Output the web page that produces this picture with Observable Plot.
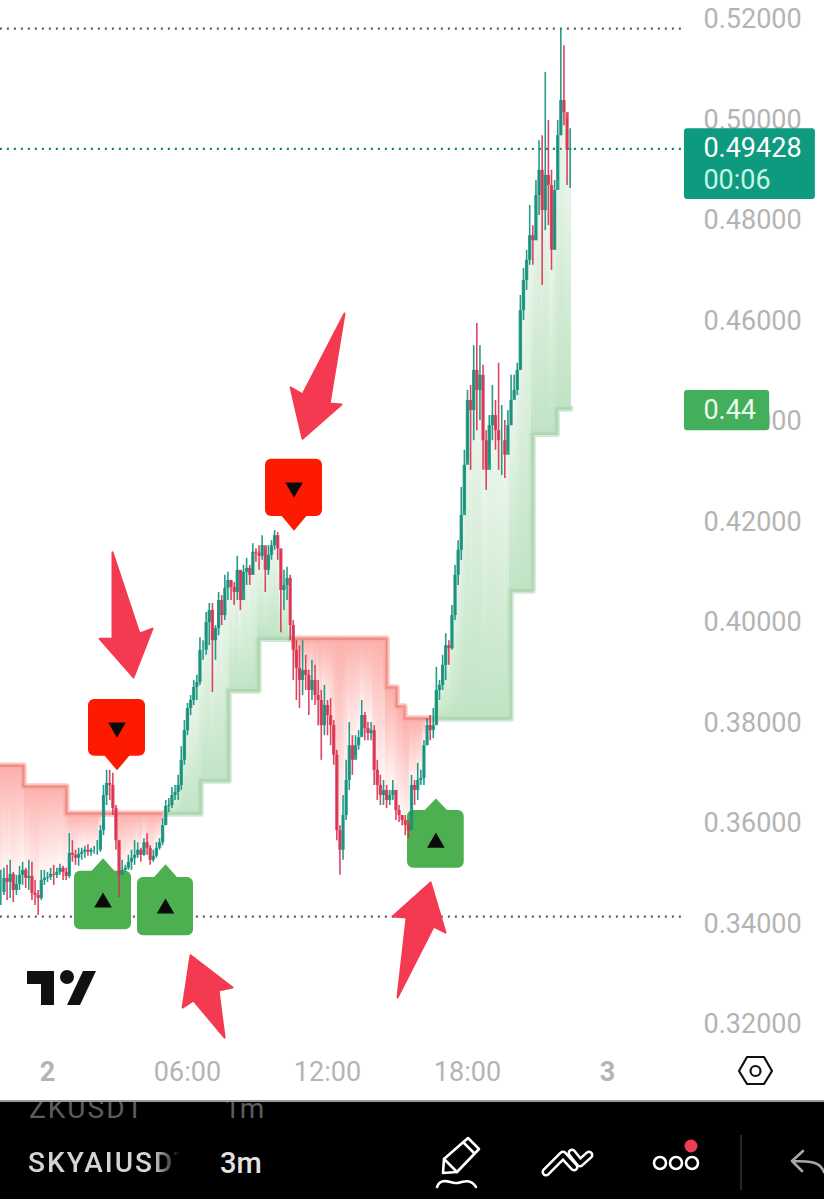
<!DOCTYPE html>
<html>
<head>
<meta charset="utf-8">
<script src="https://cdn.jsdelivr.net/npm/d3@7"></script>
<script src="https://cdn.jsdelivr.net/npm/@observablehq/plot@0.6"></script>
<style>
html,body{margin:0;padding:0;background:#fff;}
#page{position:relative;width:824px;height:1199px;overflow:hidden;font-family:Roboto,sans-serif;}
#chart svg{display:block;}
.over{position:absolute;left:0;top:0;pointer-events:none;}
#strip{position:absolute;left:0;top:1100px;width:824px;height:99px;background:#000;border-top:2px solid #9a9a9a;box-sizing:border-box;overflow:hidden;}
#strip div{position:absolute;white-space:nowrap;}
</style>
</head>
<body>
<div id="page">
  <div id="chart"></div>
  <svg class="over" width="824" height="1199" viewBox="0 0 824 1199">
    <g fill="#111"><path d="M27 971H54V1005H41V984H27Z"/><circle cx="67" cy="977" r="7"/><path d="M83 971H96L80 1005H67Z"/></g>
    <g fill="none" stroke="#111" stroke-width="2.2"><path d="M739 1071L747 1057H764L772 1071L764 1084H747Z" stroke-linejoin="round"/><circle cx="755.5" cy="1071" r="5"/></g>
  </svg>
  <div id="strip">
    <div style="left:29px;top:-10px;font-size:28px;letter-spacing:2px;color:#5c5c5c;">ZKUSDT</div>
    <div style="left:224px;top:-10px;font-size:28px;color:#5c5c5c;">1m</div>
    <div style="left:28px;top:44px;width:152px;overflow:hidden;font-size:28px;letter-spacing:2px;font-weight:500;color:#d4d4d4;-webkit-mask-image:linear-gradient(90deg,#000 82%,transparent);">SKYAIUSDT</div>
    <div style="left:220px;top:44px;font-size:29px;font-weight:500;color:#e2e2e2;">3m</div>
  </div>
  <svg class="over" width="824" height="1199" viewBox="0 0 824 1199">
    <g fill="none" stroke="#fff" stroke-width="2.6" stroke-linejoin="round" stroke-linecap="round">
      <path d="M443 1173L444 1159L468 1138L479 1149L457 1172Z"/><path d="M444 1159L457 1172"/><path d="M464 1143L474 1153"/><path d="M437 1187C441 1176 452 1184 458 1183C464 1181 471 1179 476 1187"/>
      <circle cx="660" cy="1163" r="6"/><circle cx="676" cy="1163" r="6"/><circle cx="692" cy="1163" r="6"/>
      <path d="M824 1172C820 1162 812 1161 792 1161M792 1161L803 1151M792 1161L802 1171" stroke="#a8a8a8"/>
    </g>
    <g fill="none" stroke-linejoin="round" stroke-linecap="round">
      <g stroke="#fff" stroke-width="9"><path d="M546 1172L563 1155L574 1167"/><path d="M572 1153L580 1163L589 1155"/></g>
      <g stroke="#000" stroke-width="4"><path d="M546 1172L563 1155L574 1167"/><path d="M572 1153L580 1163L589 1155"/></g>
    </g>
    <circle cx="691" cy="1146" r="6.5" fill="#ef3b54"/>
    <path d="M741 1135V1190" stroke="#333" stroke-width="1.5"/>
  </svg>
</div>
<script>
// --- axes ---
const priceTicks = [0.32,0.34,0.36,0.38,0.40,0.42,0.44,0.46,0.48,0.50,0.52];
const hourTicks = [6,12,18];
const hourLabels = ["06:00","12:00","18:00"];
const dayTicks = [0,24];
const dayLabels = ["2","3"];
const lastPrice = 0.49428;
const dayHigh = 0.5182;
const dayLow = 0.3415;
const stopLabelPrice = 0.4422;

// --- candles: 8-minute sampling from hour -2 of day 2; prices ---
const highs = [.3507,.3511,.3517,.3527,.3503,.3497,.3515,.3523,.3511,.3527,.3523,.3487,.3467,.3507,.3507,.3503,.3511,.3517,.3511,.3519,.3515,.3511,.3580,.3566,.3547,.3551,.3551,.3555,.3558,.3551,.3555,.3566,.3596,.3676,.3706,.3706,.3700,.3636,.3566,.3527,.3517,.3537,.3547,.3566,.3562,.3551,.3570,.3580,.3556,.3547,.3562,.3570,.3610,.3646,.3650,.3672,.3676,.3696,.3753,.3805,.3839,.3855,.3885,.3895,.3970,.3964,.4020,.4038,.4038,.3994,.4060,.4054,.4094,.4100,.4084,.4080,.4132,.4104,.4114,.4128,.4114,.4157,.4147,.4153,.4173,.4144,.4153,.4163,.4183,.4179,.4144,.4104,.4110,.4094,.4004,.3964,.3954,.3964,.3935,.3905,.3925,.3915,.3885,.3865,.3875,.3845,.3849,.3805,.3746,.3596,.3656,.3726,.3801,.3775,.3775,.3785,.3845,.3821,.3801,.3801,.3795,.3726,.3696,.3686,.3676,.3666,.3686,.3666,.3636,.3616,.3616,.3606,.3696,.3686,.3720,.3706,.3765,.3809,.3815,.3829,.3911,.3885,.3935,.3978,.3964,.4034,.4114,.4163,.4269,.4343,.4462,.4472,.4551,.4595,.4551,.4512,.4382,.4412,.4472,.4442,.4516,.4432,.4402,.4422,.4492,.4492,.4516,.4651,.4705,.4741,.4830,.4790,.4880,.4959,.4969,.5095,.4999,.4900,.4880,.4999,.5182,.5148,.5003,.4983];
const lows = [.3437,.3457,.3447,.3451,.3443,.3457,.3467,.3477,.3471,.3467,.3447,.3437,.3417,.3447,.3477,.3483,.3487,.3477,.3491,.3497,.3487,.3487,.3491,.3523,.3517,.3515,.3527,.3531,.3535,.3535,.3539,.3537,.3543,.3576,.3636,.3646,.3616,.3547,.3453,.3503,.3503,.3507,.3507,.3517,.3531,.3523,.3535,.3537,.3517,.3523,.3531,.3547,.3556,.3596,.3622,.3630,.3646,.3646,.3666,.3716,.3775,.3815,.3835,.3845,.3875,.3925,.3935,.3954,.3861,.3925,.3974,.3994,.4004,.4044,.4044,.4034,.4044,.4024,.4064,.4074,.4074,.4094,.4120,.4104,.4124,.4060,.4094,.4124,.4144,.4124,.3980,.4024,.4044,.3964,.3885,.3845,.3829,.3855,.3865,.3815,.3845,.3835,.3795,.3726,.3775,.3775,.3755,.3716,.3566,.3497,.3527,.3606,.3666,.3696,.3736,.3746,.3775,.3765,.3765,.3765,.3676,.3646,.3636,.3636,.3630,.3636,.3646,.3606,.3602,.3596,.3576,.3570,.3630,.3636,.3646,.3676,.3676,.3755,.3765,.3769,.3795,.3845,.3865,.3885,.3915,.3945,.4004,.4074,.4124,.4223,.4323,.4303,.4362,.4382,.4402,.4303,.4263,.4313,.4362,.4343,.4303,.4293,.4287,.4343,.4392,.4446,.4452,.4502,.4601,.4661,.4711,.4711,.4760,.4810,.4671,.4780,.4790,.4701,.4741,.4880,.4969,.4989,.4870,.4864];
const closes = [.3463,.3491,.3483,.3499,.3467,.3479,.3497,.3507,.3491,.3495,.3461,.3457,.3451,.3487,.3491,.3493,.3499,.3497,.3503,.3511,.3503,.3495,.3541,.3537,.3531,.3539,.3543,.3547,.3543,.3547,.3547,.3547,.3586,.3656,.3680,.3676,.3630,.3566,.3497,.3507,.3511,.3523,.3531,.3537,.3547,.3537,.3562,.3551,.3527,.3535,.3551,.3562,.3596,.3634,.3636,.3656,.3662,.3676,.3726,.3785,.3829,.3845,.3871,.3881,.3945,.3945,.4000,.4024,.3964,.3988,.4044,.4014,.4068,.4084,.4070,.4060,.4104,.4044,.4100,.4108,.4094,.4140,.4138,.4132,.4153,.4104,.4134,.4153,.4173,.4147,.4064,.4074,.4088,.3994,.3945,.3909,.3885,.3905,.3895,.3865,.3885,.3855,.3845,.3795,.3835,.3815,.3795,.3736,.3586,.3547,.3616,.3686,.3755,.3726,.3755,.3771,.3815,.3789,.3779,.3785,.3706,.3676,.3656,.3666,.3646,.3656,.3666,.3626,.3616,.3606,.3596,.3586,.3676,.3666,.3686,.3690,.3755,.3795,.3785,.3795,.3865,.3875,.3915,.3954,.3948,.4014,.4094,.4144,.4213,.4313,.4442,.4422,.4502,.4462,.4492,.4362,.4303,.4392,.4412,.4382,.4362,.4362,.4333,.4392,.4442,.4462,.4502,.4621,.4681,.4721,.4770,.4760,.4850,.4900,.4820,.4890,.4870,.4741,.4860,.4969,.5039,.5015,.4940,lastPrice];

// --- trailing band: start hour, level, side ---
const bandHours = [-2.2,-1.03,0.81,5.06,6.56,7.76,9.04,10.42,14.53,14.96,15.3,16.55,19.85,20.79,21.82];
const bandLevels = [.3715,.3674,.3620,.3620,.3686,.3865,.3968,.3968,.3871,.3833,.3809,.3809,.4064,.4376,.4426];
const bandSides = ["red","red","red","green","green","green","green","red","red","red","red","green","green","green","green"];
const bandEnd = 22.4;

// --- signal badges ---
const badgeHourL = [1.757,9.344,1.157,3.857,15.43];
const badgeHourR = [4.2,11.787,3.6,6.258,17.86];
const badgeTop = [.3847,.4325,.3505,.3493,.3626];
const badgeBottom = [.3734,.4211,.3389,.3377,.3511];
const badgeTip = [.3706,.4183,.3531,.3519,.3650];
const badgeGlyph = [.3791,.4269,.3443,.3431,.3562];
const badgeColor = ["#fe1a00","#fe1a00","#4caf50","#4caf50","#4caf50"];
const badgeGlyphDir = [180,180,0,0,0];

// --- annotation arrows ---
const arrowHours = [
  [2.786,3.943,4.5,3.686,2.229,2.786,2.786],
  [12.73,12.09,12.6,10.93,10.42,10.93,12.73],
  [6.13,7.93,7.33,7.59,6.26,5.79,6.13],
  [16.42,17.06,16.55,15.0,15.39,14.79,16.42]
];
const arrowPrices = [
  [.4140,.3978,.3988,.3891,.3968,.3968,.4140],
  [.4615,.4436,.4434,.4366,.4468,.4454,.4615],
  [.3338,.3274,.3268,.3174,.3248,.3234,.3338],
  [.3483,.3383,.3395,.3254,.3413,.3415,.3483]
];

// --- tables built from the arrays ---
const step = 8/60;
const bandAt = h => { let k = 0; bandHours.forEach((b,j)=>{ if (h>=b) k=j; }); return k; };
const candles = closes.map((c,i)=>{
  const h = -2 + i*step;
  const k = bandAt(h);
  const open = i ? closes[i-1] : c;
  return {h, open, close:c, high:highs[i], low:lows[i], up:c>=open, band:bandLevels[k], side:bandSides[k]};
});
const bandLine = [];
let seg = 0;
bandHours.forEach((h,k)=>{
  if (k && bandSides[k]!==bandSides[k-1]) { bandLine.push({h,p:bandLevels[k],seg,side:bandSides[k-1]}); seg++; }
  bandLine.push({h,p:bandLevels[k],seg,side:bandSides[k]});
});
bandLine.push({h:bandEnd,p:bandLevels[bandLevels.length-1],seg,side:"green"});
const badges = badgeHourL.map((l,i)=>({l,r:badgeHourR[i],t:badgeTop[i],b:badgeBottom[i],tip:badgeTip[i],g:badgeGlyph[i],c:badgeColor[i],rot:badgeGlyphDir[i],m:(l+badgeHourR[i])/2}));
const pointers = badges.flatMap((d,i)=>{
  const base = d.tip < d.b ? d.b + 0.0005 : d.t - 0.0005;
  return [{x:d.m-0.6,y:base,i,c:d.c},{x:d.m,y:d.tip,i,c:d.c},{x:d.m+0.6,y:base,i,c:d.c}];
});
const arrows = arrowHours.flatMap((a,i)=>a.map((x,j)=>({x,y:arrowPrices[i][j],i})));

const redFill = candles.filter(d=>d.side==="red" && d.close<d.band);
const greenFill = candles.filter(d=>d.side==="green" && d.close>d.band);

const defs = () => {
  const g = document.createElementNS("http://www.w3.org/2000/svg","defs");
  g.innerHTML = `<linearGradient id="redFade" x1="0" y1="0" x2="0" y2="1"><stop offset="0" stop-color="#fb918b" stop-opacity=".72"/><stop offset="1" stop-color="#fb918b" stop-opacity=".03"/></linearGradient>
  <linearGradient id="greenFade" x1="0" y1="0" x2="0" y2="1"><stop offset="0" stop-color="#a9d9ad" stop-opacity=".2"/><stop offset="1" stop-color="#a9d9ad" stop-opacity=".72"/></linearGradient>`;
  return g;
};

const chart = Plot.plot({
  width:824, height:1100,
  marginLeft:0, marginRight:121, marginTop:0, marginBottom:50,
  x:{domain:[-47/23.333,656/23.333], axis:null},
  y:{domain:[.5238,.31485].reverse(), axis:null},
  style:{fontFamily:"Roboto, sans-serif", background:"#fff", overflow:"visible"},
  marks:[
    defs,
    Plot.axisY({anchor:"right", ticks:priceTicks, tickFormat:d3.format(".5f"), tickSize:0, tickPadding:0, fontSize:27, fill:"#b4b4b4", label:null}),
    Plot.axisX({anchor:"bottom", ticks:hourTicks, tickFormat:d=>hourLabels[hourTicks.indexOf(d)], tickSize:0, tickPadding:11, fontSize:27, fill:"#b4b4b4", label:null}),
    Plot.axisX({anchor:"bottom", ticks:dayTicks, tickFormat:d=>dayLabels[dayTicks.indexOf(d)], tickSize:0, tickPadding:11, fontSize:27, fontWeight:700, fill:"#b4b4b4", label:null}),
    // dotted price levels
    Plot.ruleY([dayHigh,dayLow],{x1:-2.02,x2:27.26,stroke:"#555e63",strokeWidth:2.4,strokeDasharray:"2 5"}),
    Plot.ruleY([lastPrice],{x1:-2.02,x2:27.3,stroke:"#12806c",strokeWidth:2.4,strokeDasharray:"2 5"}),
    // value labels
    Plot.rect([lastPrice],{x1:27.30,x2:32.91,y1:.4983,y2:.4842,fill:"#0e9a7e",rx:3}),
    Plot.text([lastPrice],{x:28.11,y:lastPrice,text:d=>d3.format(".5f")(d),textAnchor:"start",fontSize:27,fill:"#fff"}),
    Plot.text(["00:06"],{x:28.11,y:.4880,text:d=>d,textAnchor:"start",fontSize:27,fill:"#c6f5e6"}),
    Plot.rect([stopLabelPrice],{x1:27.30,x2:30.95,y1:.4462,y2:.4382,fill:"#43ae5c",rx:3}),
    Plot.text(["0.44"],{x:28.11,y:stopLabelPrice,text:d=>d,textAnchor:"start",fontSize:27,fill:"#eafbea"}),
    // gradient fills between band and price
    Plot.rect(redFill,{x1:d=>d.h-step/2,x2:d=>d.h+step/2,y1:"band",y2:"close",fill:"url(#redFade)",shapeRendering:"crispEdges"}),
    Plot.rect(greenFill,{x1:d=>d.h-step/2,x2:d=>d.h+step/2,y1:"close",y2:"band",fill:"url(#greenFade)",shapeRendering:"crispEdges"}),
    // band line
    Plot.line(bandLine.filter(d=>d.side==="red"),{x:"h",y:"p",z:"seg",curve:"step-after",stroke:"#f9aaa5",strokeWidth:6.5,strokeOpacity:.65,strokeLinejoin:"round",strokeLinecap:"round"}),
    Plot.line(bandLine.filter(d=>d.side==="red"),{x:"h",y:"p",z:"seg",curve:"step-after",stroke:"#f0837d",strokeWidth:2.5,strokeOpacity:.8,strokeLinejoin:"round"}),
    Plot.line(bandLine.filter(d=>d.side==="green"),{x:"h",y:"p",z:"seg",curve:"step-after",stroke:"#bfe0c1",strokeWidth:6.5,strokeOpacity:.75,strokeLinejoin:"round",strokeLinecap:"round"}),
    Plot.line(bandLine.filter(d=>d.side==="green"),{x:"h",y:"p",z:"seg",curve:"step-after",stroke:"#a3d0a7",strokeWidth:2.5,strokeOpacity:.75,strokeLinejoin:"round"}),
    // signal badges
    Plot.rect(badges,{x1:"l",x2:"r",y1:"b",y2:"t",fill:"c",rx:6}),
    Plot.line(pointers,{x:"x",y:"y",z:"i",fill:"c",stroke:null}),
    Plot.dot(badges,{x:"m",y:"g",symbol:"triangle",r:6.5,fill:"#0a0a0a",stroke:null,rotate:"rot"}),
    // candles
    Plot.ruleX(candles.filter(d=>!d.up),{x:"h",y1:"low",y2:"high",stroke:"#d9304f",strokeWidth:1.6,strokeOpacity:.9,imageFilter:"blur(0.4px)"}),
    Plot.ruleX(candles.filter(d=>d.up),{x:"h",y1:"low",y2:"high",stroke:"#128f7b",strokeWidth:1.6,strokeOpacity:.9,imageFilter:"blur(0.4px)"}),
    Plot.ruleX(candles.filter(d=>!d.up),{x:"h",y1:"open",y2:"close",stroke:"#d9304f",strokeWidth:3.3,strokeOpacity:.85,imageFilter:"blur(0.4px)"}),
    Plot.ruleX(candles.filter(d=>d.up),{x:"h",y1:"open",y2:"close",stroke:"#128f7b",strokeWidth:3.3,strokeOpacity:.85,imageFilter:"blur(0.4px)"}),
    // red arrows
    Plot.line(arrows,{x:"x",y:"y",z:"i",fill:"#f43a50",stroke:"#f43a50",strokeWidth:2,strokeLinejoin:"round"})
  ]
});
document.getElementById("chart").appendChild(chart);
</script>
</body>
</html>
